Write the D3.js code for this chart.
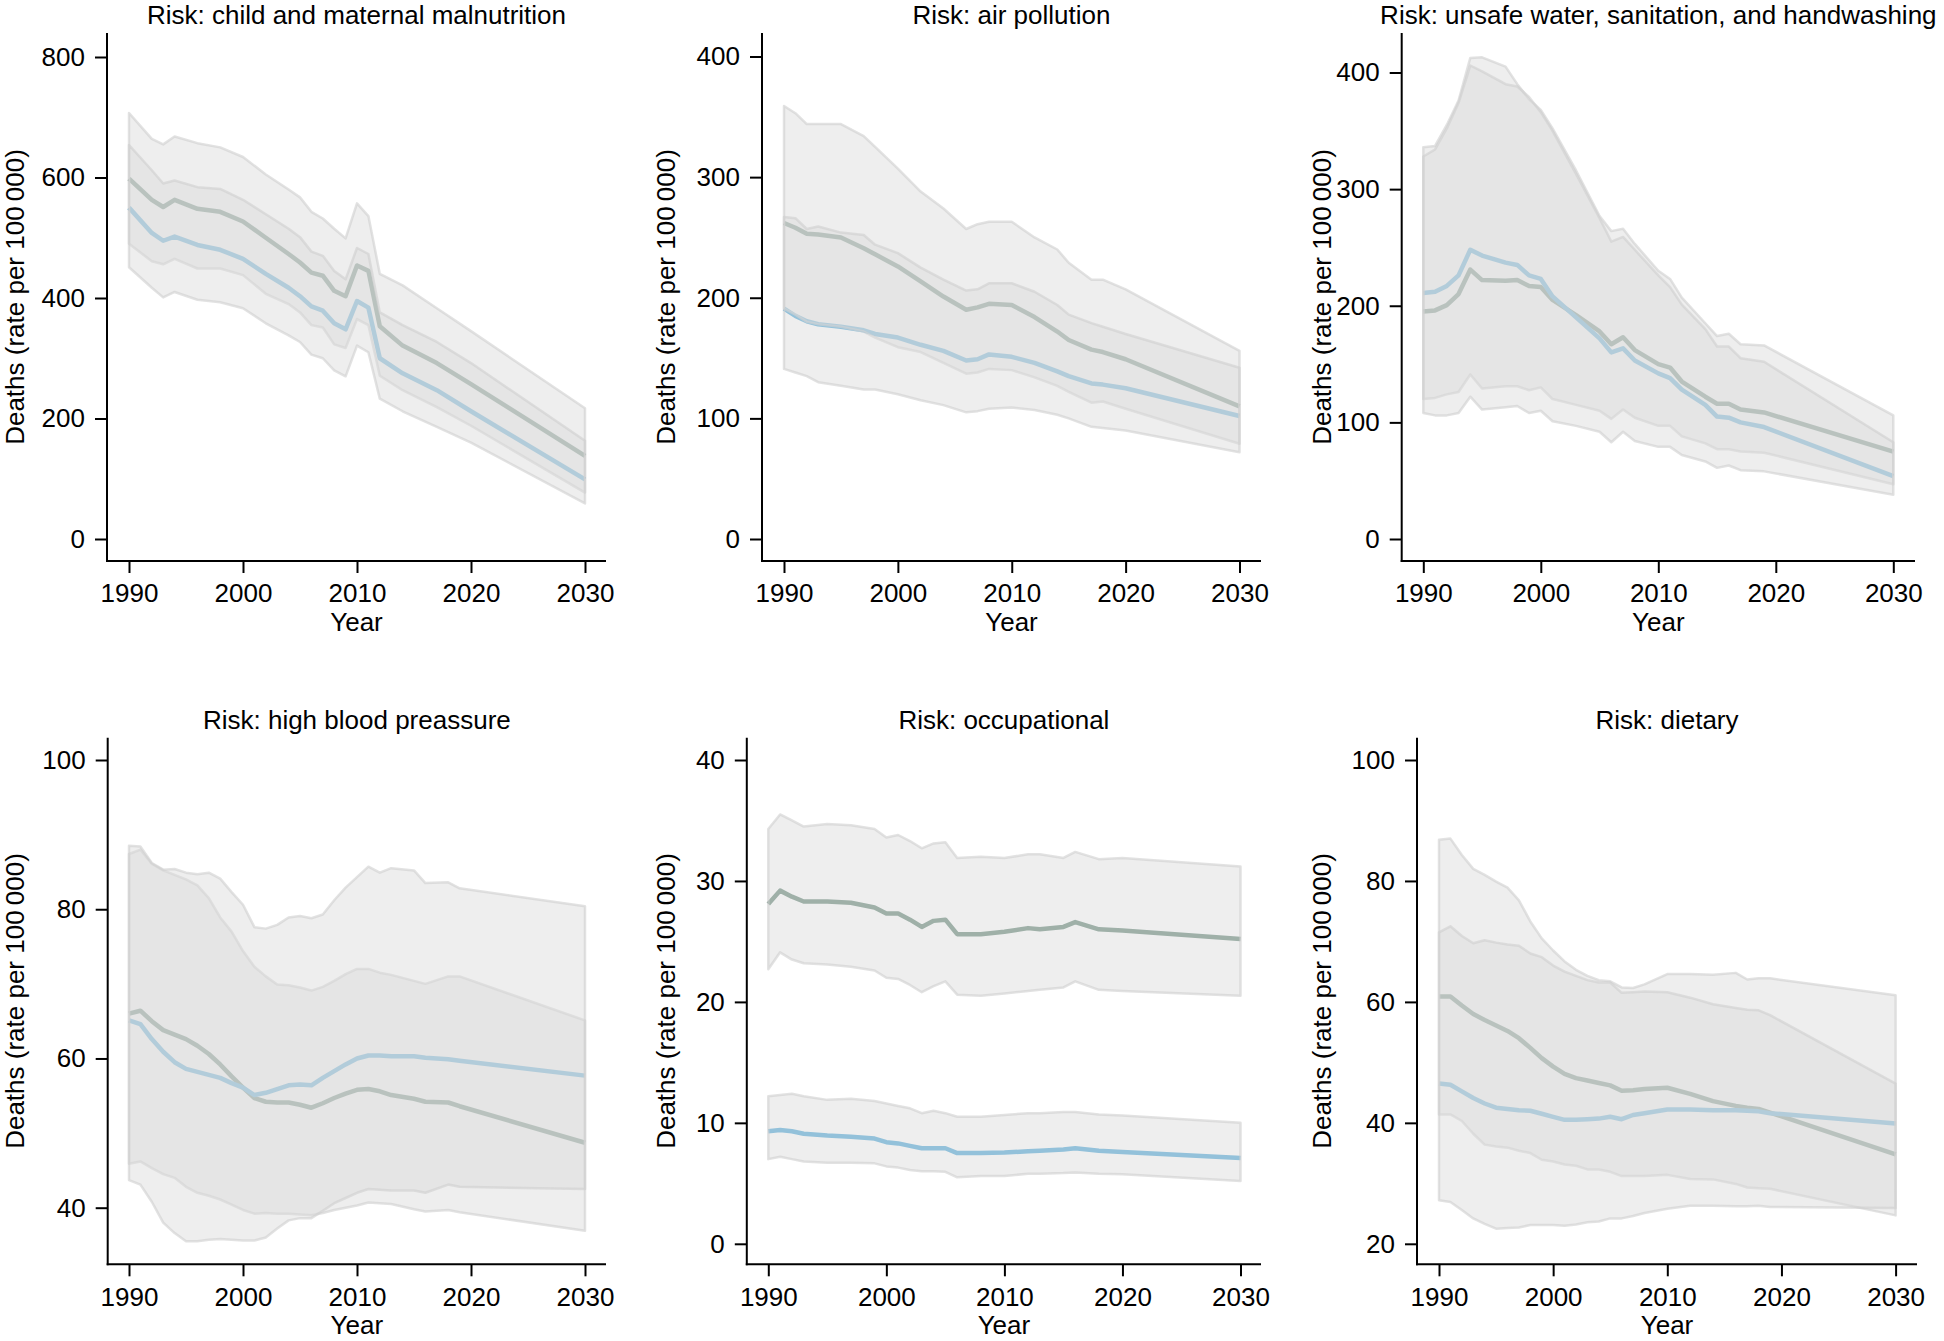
<!DOCTYPE html>
<meta charset="utf-8">
<style>
  body { margin: 0; background: #fff; }
  svg { display: block; background: #fff; }
  svg text { font-family: "Liberation Sans", Arial, Helvetica, sans-serif; fill: #000; }
  .axis line, .axis-line { stroke: #000; stroke-width: 2; }
  .band { fill: #dadada; fill-opacity: 0.45; stroke: #cfcfcf; stroke-opacity: 0.6; stroke-width: 2.5; stroke-linejoin: round; }
  .line { fill: none; stroke-width: 4.5; stroke-linejoin: round; }
  .line-a { stroke: #6f8f80; }
  .line-b { stroke: #5aaedb; }
</style>
<svg width="1944" height="1341"></svg>
<script src="https://d3js.org/d3.v7.min.js"></script>
<script>
  // panel titles and y tick labels
  var titles = [
    "Risk: child and maternal malnutrition",
    "Risk: air pollution",
    "Risk: unsafe water, sanitation, and handwashing",
    "Risk: high blood preassure",
    "Risk: occupational",
    "Risk: dietary"
  ];
  var yTicks = [
    [0, 200, 400, 600, 800],
    [0, 100, 200, 300, 400],
    [0, 100, 200, 300, 400],
    [40, 60, 80, 100],
    [0, 10, 20, 30, 40],
    [20, 40, 60, 80, 100]
  ];
  var xTicks = [1990, 2000, 2010, 2020, 2030];

  // --- child and maternal malnutrition
  var malYears = [1990, 1992, 1993, 1994, 1996, 1998, 2000, 2002, 2004, 2005, 2006, 2007, 2008, 2009, 2010, 2011, 2012, 2014, 2017, 2020, 2030];
  var malA = [598, 563, 551, 563, 548, 543, 527, 500, 473, 459, 442, 437, 412, 403, 454, 445, 353, 321, 292, 257, 138];
  var malB = [550, 508, 495, 502, 488, 480, 465, 440, 417, 403, 386, 379, 358, 348, 395, 384, 300, 275, 247, 212, 99];
  var malAhi = [707, 664, 655, 668, 657, 650, 634, 605, 580, 567, 543, 532, 515, 499, 557, 536, 440, 421, 383, 345, 217];
  var malAlo = [490, 461, 456, 465, 449, 449, 438, 407, 390, 376, 355, 351, 323, 317, 365, 355, 271, 247, 219, 188, 77];
  var malBhi = [654, 612, 590, 595, 584, 581, 563, 539, 515, 501, 477, 470, 445, 431, 483, 473, 376, 355, 327, 292, 163];
  var malBlo = [451, 417, 401, 410, 397, 393, 383, 358, 338, 327, 306, 300, 280, 270, 321, 310, 233, 212, 186, 160, 59];

  // --- air pollution
  var airYears = [1990, 1991, 1992, 1993, 1995, 1997, 1998, 2000, 2002, 2004, 2006, 2007, 2008, 2010, 2012, 2014, 2015, 2017, 2018, 2020, 2030];
  var airA = [262, 258, 253, 252.5, 250, 241, 236, 226, 213.5, 201, 190, 192, 195, 194, 184, 172, 165, 157, 155, 149, 110];
  var airB = [191, 185, 180.5, 178, 176, 173, 170, 167, 161, 156, 148, 149, 153, 151, 146, 139, 135, 129, 128, 125, 102];
  var airAhi = [359, 353, 344, 344, 344, 334, 325, 307, 288, 274, 257, 261, 263, 263, 250, 240, 229, 215, 215, 207, 156];
  var airAlo = [191, 186, 180, 178, 176, 172, 167, 159, 155, 146, 137, 138, 141, 140, 134, 127, 122, 113, 114, 108, 79];
  var airBhi = [267, 266, 257, 259, 254, 252, 244, 237, 225, 215, 206, 207, 212, 212, 205, 194, 186, 179, 176, 170, 142];
  var airBlo = [141, 138, 135, 130, 127, 124, 124, 120, 115, 111, 105, 106, 108, 109, 107, 103, 100, 93, 92, 90, 72];

  // --- unsafe water, sanitation, and handwashing
  var watYears = [1990, 1991, 1992, 1993, 1994, 1995, 1997, 1998, 1999, 2000, 2001, 2003, 2005, 2006, 2007, 2008, 2010, 2011, 2012, 2014, 2015, 2016, 2017, 2019, 2030];
  var watA = [195, 196, 200.5, 210, 231, 222, 221.5, 222, 217, 216, 205, 192, 178, 167, 173, 162, 150, 147, 135, 122, 116, 116, 111, 108.5, 75];
  var watB = [211, 212, 217, 226, 248, 243, 237, 235, 226, 223, 208, 190, 172, 160, 163.5, 153, 142, 138, 128, 115, 105, 104, 100, 96, 54];
  var watAhi = [336, 337, 355, 376, 412.5, 413, 405, 390, 377, 368, 352, 316, 277, 264, 266, 253, 230, 223, 207, 185, 174, 176, 167, 166, 106];
  var watAlo = [120, 121, 124, 126, 141, 129, 131, 131, 127.5, 130, 120, 115, 110, 103, 111, 104, 97, 97, 88, 82, 77, 77, 75, 74, 47];
  var watBhi = [328, 334, 352, 374, 406, 401, 390, 388, 379, 366, 350, 313, 275, 255, 259, 248, 226, 216, 201, 180, 165, 165, 155, 152, 83];
  var watBlo = [108, 106, 106, 108, 122, 111, 113, 114, 108, 110, 101, 97, 92, 83, 92, 84, 79, 79, 72, 66.5, 61, 63, 59, 58, 38];

  // --- high blood pressure
  var bpYears = [1990, 1991, 1992, 1993, 1994, 1995, 1996, 1997, 1998, 1999, 2000, 2001, 2002, 2003, 2004, 2005, 2006, 2007, 2008, 2009, 2010, 2011, 2012, 2013, 2015, 2016, 2018, 2019, 2030];
  var bpA = [66.0, 66.4, 65.0, 63.8, 63.2, 62.6, 61.7, 60.6, 59.2, 57.6, 56.1, 54.7, 54.2, 54.1, 54.1, 53.8, 53.4, 54.0, 54.7, 55.3, 55.8, 55.9, 55.6, 55.1, 54.6, 54.2, 54.1, 53.6, 48.7];
  var bpB = [65.1, 64.6, 62.6, 60.9, 59.5, 58.6, 58.2, 57.8, 57.4, 56.7, 56.1, 55.1, 55.4, 55.9, 56.4, 56.5, 56.4, 57.4, 58.3, 59.2, 60.0, 60.4, 60.4, 60.3, 60.3, 60.1, 59.9, 59.7, 57.7];
  var bpAhi = [87.4, 88.0, 86.1, 85.2, 84.6, 84.0, 83.2, 81.5, 78.9, 77.0, 74.4, 72.3, 71.0, 69.9, 69.8, 69.5, 69.1, 69.6, 70.4, 71.3, 72.0, 72.0, 71.5, 71.2, 70.4, 70.0, 71.0, 71.0, 65.1];
  var bpAlo = [45.9, 46.2, 45.3, 44.5, 44.0, 42.8, 42.0, 41.6, 41.1, 40.4, 39.7, 39.2, 39.3, 39.2, 39.2, 39.1, 39.0, 39.3, 39.7, 40.0, 40.3, 40.7, 40.6, 40.5, 39.8, 39.5, 39.7, 39.4, 36.9];
  var bpBhi = [88.5, 88.4, 86.2, 85.3, 85.4, 84.9, 84.7, 84.9, 84.1, 82.3, 80.6, 77.6, 77.4, 77.9, 78.9, 79.1, 78.8, 79.3, 81.2, 82.9, 84.3, 85.7, 84.9, 85.5, 85.2, 83.5, 83.6, 82.8, 80.4];
  var bpBlo = [43.7, 43.1, 40.8, 38.0, 36.6, 35.5, 35.5, 35.7, 35.8, 35.7, 35.6, 35.6, 36.0, 37.2, 38.3, 38.6, 38.6, 39.6, 40.6, 41.3, 42.0, 42.5, 42.4, 42.3, 42.3, 42.0, 43.1, 42.8, 42.5];

  // --- occupational
  var occYears = [1990, 1991, 1992, 1993, 1995, 1997, 1999, 2000, 2001, 2002, 2003, 2004, 2005, 2006, 2008, 2010, 2012, 2013, 2015, 2016, 2018, 2020, 2030];
  var occA = [28.1, 29.2, 28.7, 28.3, 28.3, 28.2, 27.8, 27.3, 27.3, 26.8, 26.2, 26.7, 26.8, 25.6, 25.6, 25.8, 26.1, 26.0, 26.2, 26.6, 26.0, 25.9, 25.2];
  var occB = [9.3, 9.4, 9.3, 9.1, 8.95, 8.85, 8.7, 8.4, 8.3, 8.1, 7.9, 7.9, 7.9, 7.5, 7.5, 7.55, 7.65, 7.7, 7.8, 7.9, 7.7, 7.6, 7.1];
  var occAhi = [34.3, 35.5, 35.0, 34.5, 34.7, 34.6, 34.3, 33.6, 33.8, 33.3, 32.7, 33.1, 33.2, 31.9, 32.0, 31.9, 32.2, 32.2, 31.9, 32.4, 31.8, 31.9, 31.2];
  var occAlo = [22.7, 24.1, 23.5, 23.2, 23.1, 22.9, 22.6, 22.0, 21.9, 21.4, 20.8, 21.3, 21.7, 20.6, 20.5, 20.7, 20.9, 21.0, 21.2, 21.7, 21.0, 20.9, 20.5];
  var occBhi = [12.2, 12.3, 12.4, 12.2, 11.9, 12.0, 11.8, 11.6, 11.4, 11.2, 10.8, 11.0, 10.8, 10.5, 10.5, 10.65, 10.8, 10.8, 10.9, 10.9, 10.7, 10.6, 10.0];
  var occBlo = [7.0, 7.2, 7.0, 6.8, 6.7, 6.7, 6.65, 6.4, 6.3, 6.1, 6.0, 6.0, 5.95, 5.5, 5.6, 5.6, 5.8, 5.8, 5.85, 5.9, 5.8, 5.75, 5.2];

  // --- dietary
  var dietYears = [1990, 1991, 1992, 1993, 1994, 1995, 1996, 1997, 1998, 1999, 2000, 2001, 2002, 2003, 2004, 2005, 2006, 2007, 2008, 2010, 2012, 2014, 2016, 2017, 2018, 2019, 2030];
  var dietA = [60.9, 60.9, 59.4, 58.0, 57.0, 56.1, 55.2, 54.0, 52.4, 50.7, 49.3, 48.1, 47.4, 47.0, 46.6, 46.2, 45.3, 45.4, 45.6, 45.8, 44.8, 43.6, 42.8, 42.5, 42.3, 41.7, 34.8];
  var dietB = [46.5, 46.3, 45.2, 44.1, 43.2, 42.5, 42.3, 42.1, 42.0, 41.5, 41.0, 40.5, 40.5, 40.6, 40.7, 41.0, 40.6, 41.3, 41.6, 42.2, 42.2, 42.1, 42.1, 42.0, 41.9, 41.6, 39.9];
  var dietAhi = [86.8, 87.0, 84.3, 82.0, 81.0, 79.9, 78.9, 76.8, 73.3, 70.5, 68.5, 66.7, 65.3, 64.3, 63.6, 63.4, 62.4, 62.3, 62.9, 64.6, 64.6, 64.5, 64.8, 63.7, 63.9, 63.9, 61.1];
  var dietAlo = [41.4, 41.4, 40.3, 38.2, 36.4, 36.1, 35.9, 35.4, 35.0, 33.9, 33.6, 33.1, 32.9, 32.3, 32.3, 31.9, 31.2, 31.2, 31.2, 31.4, 30.7, 30.65, 29.9, 29.3, 29.2, 29.1, 24.7];
  var dietBhi = [71.5, 72.5, 70.9, 69.7, 70.2, 69.8, 69.5, 69.3, 68.0, 67.4, 66.0, 65.0, 64.3, 63.6, 63.2, 63.2, 61.5, 61.6, 61.7, 61.6, 60.7, 59.6, 59.0, 58.7, 58.6, 57.8, 46.5];
  var dietBlo = [27.2, 26.9, 25.6, 24.2, 23.3, 22.5, 22.6, 22.7, 23.1, 23.1, 23.1, 23.0, 23.2, 23.55, 23.7, 24.2, 24.2, 24.6, 25.1, 25.8, 26.3, 26.3, 26.2, 26.2, 26.3, 26.1, 25.9];

  var panelData = [
    [malYears, malA, malB, malAlo, malAhi, malBlo, malBhi],
    [airYears, airA, airB, airAlo, airAhi, airBlo, airBhi],
    [watYears, watA, watB, watAlo, watAhi, watBlo, watBhi],
    [bpYears, bpA, bpB, bpAlo, bpAhi, bpBlo, bpBhi],
    [occYears, occA, occB, occAlo, occAhi, occBlo, occBhi],
    [dietYears, dietA, dietB, dietAlo, dietAhi, dietBlo, dietBhi]
  ];

  // layout of each panel in page pixels
  var layout = [
    {axisX: 107, x0: 129, x1: 585, end: 606, top: 33, bottom: 561, py0: 539, py1: 57, labX: 24},
    {axisX: 762, x0: 784, x1: 1239.5, end: 1261, top: 33, bottom: 561, py0: 539, py1: 56.5, labX: 675},
    {axisX: 1401.7, x0: 1423.3, x1: 1893.3, end: 1915, top: 33, bottom: 561, py0: 539, py1: 72.5, labX: 1331},
    {axisX: 107.7, x0: 129, x1: 585, end: 606, top: 737.7, bottom: 1264.3, py0: 1207.7, py1: 760, labX: 24},
    {axisX: 746.8, x0: 768.3, x1: 1240.5, end: 1261, top: 737.7, bottom: 1264.3, py0: 1243.8, py1: 760, labX: 675},
    {axisX: 1417, x0: 1439, x1: 1895.6, end: 1917, top: 737.7, bottom: 1264.3, py0: 1243.8, py1: 760, labX: 1331}
  ];

  var svg = d3.select("svg");
  var fontSize = 26;

  layout.forEach(function(L, i) {
    var d = panelData[i],
      yrs = d[0],
      ticks = yTicks[i];

    var x = d3.scaleLinear().domain([1990, 2030]).range([L.x0, L.x1]),
      y = d3.scaleLinear().domain([ticks[0], ticks[ticks.length - 1]]).range([L.py0, L.py1]);

    var g = svg.append("g").attr("class", "panel");

    var line = function(vals) {
      return d3.line()
        .x(function(v, j) { return x(yrs[j]); })
        .y(function(v) { return y(v); })(vals);
    };
    var area = function(lo, hi) {
      return d3.area()
        .x(function(v, j) { return x(yrs[j]); })
        .y0(function(v, j) { return y(lo[j]); })
        .y1(function(v, j) { return y(hi[j]); })(lo);
    };

    // lines sit under the translucent bands, as in the original
    g.append("path").attr("class", "line line-a").attr("d", line(d[1]));
    g.append("path").attr("class", "line line-b").attr("d", line(d[2]));
    g.append("path").attr("class", "band").attr("d", area(d[3], d[4]));
    g.append("path").attr("class", "band").attr("d", area(d[5], d[6]));

    // y axis
    var yAxis = d3.axisLeft(y).tickValues(ticks).tickSize(12).tickPadding(10).tickSizeOuter(0);
    var gy = g.append("g")
      .attr("class", "axis")
      .attr("transform", "translate(" + L.axisX + ",0)")
      .call(yAxis);
    gy.select(".domain").remove();
    gy.attr("font-size", fontSize).attr("font-family", null);

    g.append("line").attr("class", "axis-line")
      .attr("x1", L.axisX).attr("x2", L.axisX)
      .attr("y1", L.top).attr("y2", L.bottom + 1);

    // x axis
    var xAxis = d3.axisBottom(x).tickValues(xTicks).tickFormat(d3.format("d")).tickSize(12).tickPadding(11).tickSizeOuter(0);
    var gx = g.append("g")
      .attr("class", "axis")
      .attr("transform", "translate(0," + L.bottom + ")")
      .call(xAxis);
    gx.select(".domain").remove();
    gx.attr("font-size", fontSize).attr("font-family", null);

    g.append("line").attr("class", "axis-line")
      .attr("x1", L.axisX - 1).attr("x2", L.end)
      .attr("y1", L.bottom).attr("y2", L.bottom);

    var cx = (L.axisX + L.end) / 2;

    g.append("text")
      .attr("x", cx)
      .attr("y", L.bottom + 70)
      .attr("text-anchor", "middle")
      .attr("font-size", fontSize)
      .text("Year");

    g.append("text")
      .attr("transform", "translate(" + L.labX + "," + ((L.top + L.bottom) / 2) + ") rotate(-90)")
      .attr("text-anchor", "middle")
      .attr("font-size", fontSize)
      .text("Deaths (rate per 100\u2009000)");

    g.append("text")
      .attr("x", cx)
      .attr("y", L.top - 9)
      .attr("text-anchor", "middle")
      .attr("font-size", fontSize)
      .text(titles[i]);
  });
</script>
